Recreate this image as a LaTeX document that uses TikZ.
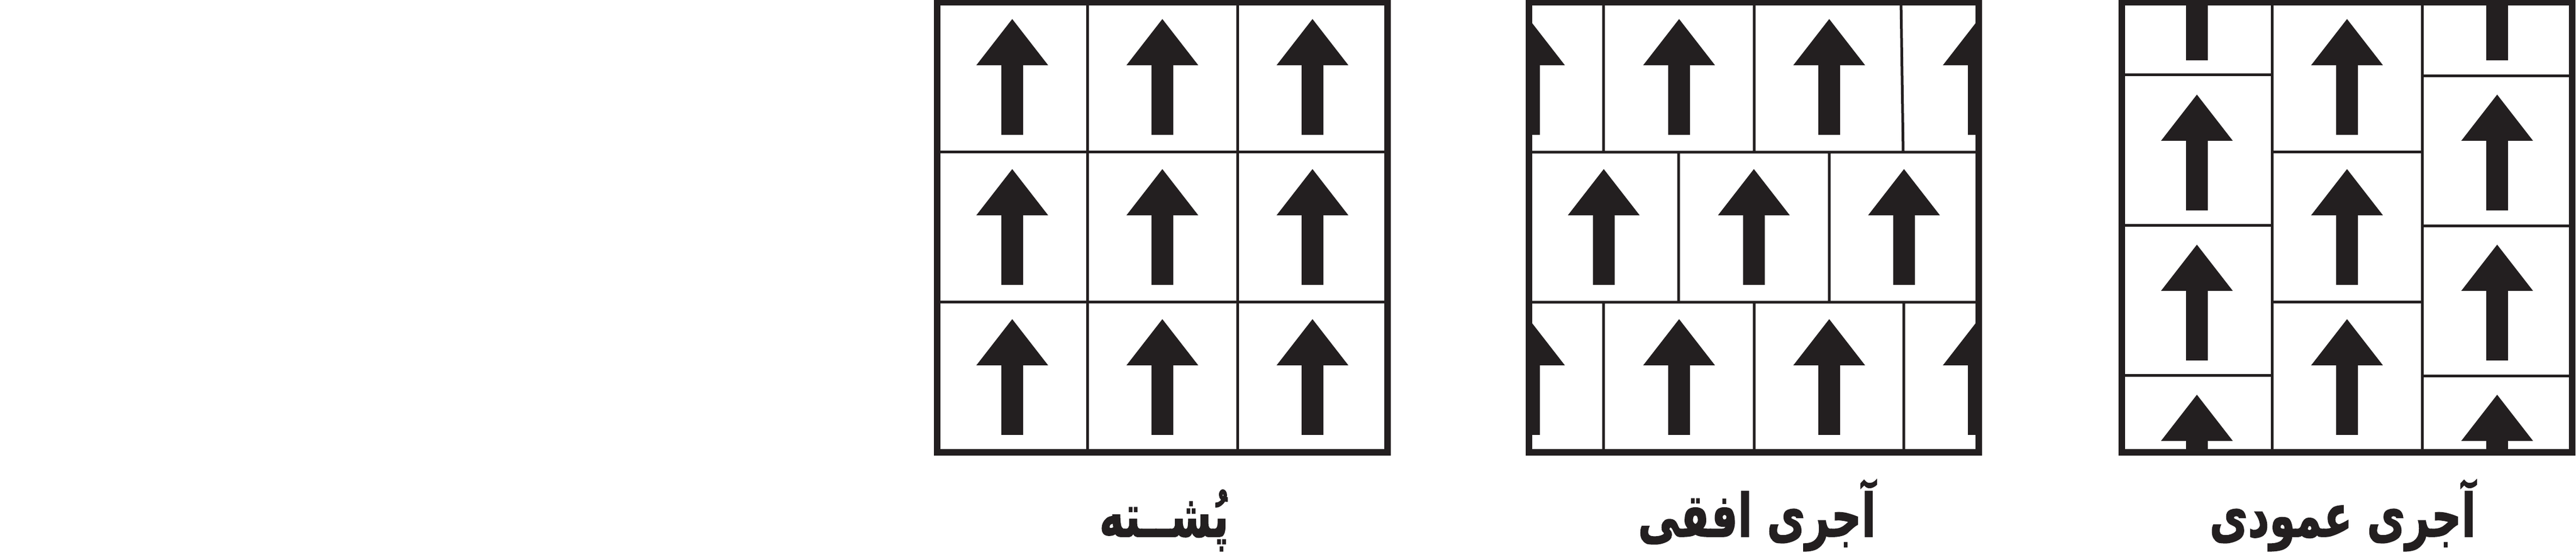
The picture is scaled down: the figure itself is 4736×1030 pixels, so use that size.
\documentclass[tikz,border=0pt]{standalone}
\usepackage{graphicx}
\usepackage{fontspec}
\newfontfamily\arabicfont[Script=Arabic,BoldFeatures={FakeBold=1.5}]{DejaVu Sans}
\TeXXeTstate=1
\definecolor{ink}{HTML}{231F20}
\newcommand\brarrow[2]{\fill[ink] (#1,#2) ++(0,-107) -- ++(66,85) -- ++(-46,0) -- ++(0,128) -- ++(-40,0) -- ++(0,-128) -- ++(-46,0) -- cycle;}
\newcommand\captxt[1]{\scalebox{0.7}[1]{\beginR #1\endR}}
\begin{document}
\begin{tikzpicture}[x=0.1pt,y=-0.1pt,
  frame/.style={draw=ink,line width=1.2pt},
  joint/.style={draw=ink,line width=0.5pt},
  caption/.style={font=\arabicfont\bfseries\fontsize{11}{13}\selectfont,text=ink,inner sep=0pt,anchor=base}]
\useasboundingbox (0,0) rectangle (4736,1030);
\fill[white] (0,0) rectangle (4736,1030);
% ---- panel 1: stack bond
\foreach \x in {1861,2137,2413} {\foreach \y in {142,418,694} {\brarrow{\x}{\y}}}
\draw[joint] (1999,4) -- (1999,832) (2275,4) -- (2275,832)
  (1723,280) -- (2551,280) (1723,556) -- (2551,556);
\draw[frame] (1723,4) rectangle (2551,832);
% ---- panel 2: horizontal running bond
\begin{scope}
\clip (2811,4) rectangle (3638,832);
\foreach \x in {2811,3087,3363,3638} {\brarrow{\x}{142}\brarrow{\x}{694}}
\foreach \x in {2948.5,3224.5,3500.5} {\brarrow{\x}{418}}
\end{scope}
\draw[joint] (2811,280) -- (3638,280) (2811,556) -- (3638,556)
  (2948,4) -- (2948,280) (3225,4) -- (3225,280) (3495,4) -- (3499,280)
  (3086,280) -- (3086,556) (3363,280) -- (3363,556)
  (2948,556) -- (2948,832) (3225,556) -- (3225,832) (3500,556) -- (3500,832);
\draw[frame] (2811,4) rectangle (3638,832);
% ---- panel 3: vertical running bond
\begin{scope}
\clip (3901,4) rectangle (4729,832);
\foreach \x in {4039,4591} {\foreach \y in {5,281,557,833} {\brarrow{\x}{\y}}}
\foreach \y in {142,418,694} {\brarrow{4315}{\y}}
\end{scope}
\draw[joint] (4177,4) -- (4177,832) (4453,4) -- (4453,832)
  (3901,138) -- (4177,138) (3901,414.5) -- (4177,414.5) (3901,691) -- (4177,691)
  (4453,139.5) -- (4729,139.5) (4453,416) -- (4729,416) (4453,692) -- (4729,692)
  (4177,280) -- (4453,280) (4177,556) -- (4453,556);
\draw[frame] (3901,4) rectangle (4729,832);
% ---- captions
\node[caption] (stack) at (2140,987) {\captxt{پُشــته}};
\node[caption] (horiz) at (3230,987) {\captxt{آجری افقی}};
\node[caption] (vert) at (4307,987) {\captxt{آجری عمودی}};
\end{tikzpicture}
\end{document}
